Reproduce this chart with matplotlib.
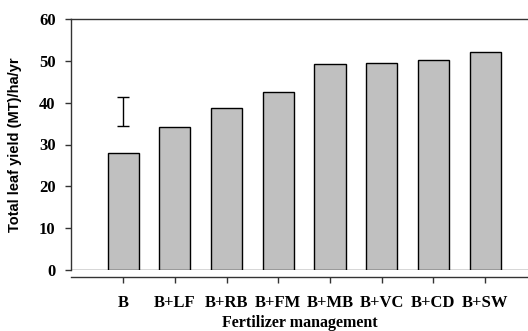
import numpy as np
import matplotlib
matplotlib.use("Agg")
import matplotlib.pyplot as plt

# values
treatments = ['B', 'B+LF', 'B+RB', 'B+FM', 'B+MB', 'B+VC', 'B+CD', 'B+SW']
yield_vals = [27.9, 34.3, 38.7, 42.6, 49.2, 49.6, 50.1, 52.2]
lsd_center = 37.9
lsd_half = 3.5
yticks = [0, 10, 20, 30, 40, 50, 60]

fig = plt.figure(figsize=(5.28, 3.31), dpi=100)
ax = fig.add_axes([71 / 528, (331 - 270) / 331, 1 - 71 / 528, 251 / 331])

# spine moves first: set_position rebuilds the ticks
ax.spines['right'].set_visible(False)
ax.spines['bottom'].set_position(('outward', 5))
for s in ['left', 'top', 'bottom']:
    ax.spines[s].set_color('#333333')
    ax.spines[s].set_linewidth(1)

x = np.arange(len(treatments))
ax.bar(x, yield_vals, width=0.6, color='#c0c0c0', edgecolor='black', linewidth=1, zorder=3)

# LSD bar above the first column
ax.errorbar([0], [lsd_center], yerr=[lsd_half], fmt='none', ecolor='black',
            elinewidth=1, capsize=4, capthick=1, zorder=4)

ax.axhline(0, color='#333333', lw=1, zorder=2)

ax.set_xlim(-1.01, 7.83)
ax.set_ylim(0, 60)
ax.set_yticks(yticks)
ax.set_yticklabels([str(v) for v in yticks])
ax.set_xticks(x)
ax.set_xticklabels(treatments)

for lbl in ax.get_yticklabels():
    lbl.set_family('Liberation Serif')
    lbl.set_weight('bold')
    lbl.set_size(12)
for lbl in ax.get_xticklabels():
    lbl.set_family('Liberation Serif')
    lbl.set_weight('bold')
    lbl.set_size(12)

ax.tick_params(axis='y', direction='out', length=4, width=1, color='#333333', pad=7)
ax.tick_params(axis='x', direction='out', length=4, width=1, color='#333333', pad=9)

ax.set_ylabel('Total leaf yield (MT)/ha/yr', family='Liberation Sans', weight='bold',
              size=10.5, labelpad=12)
ax.set_xlabel('Fertilizer management', family='Liberation Serif', weight='bold',
              size=11.5, labelpad=3)

fig.savefig('out.png', dpi=100)
